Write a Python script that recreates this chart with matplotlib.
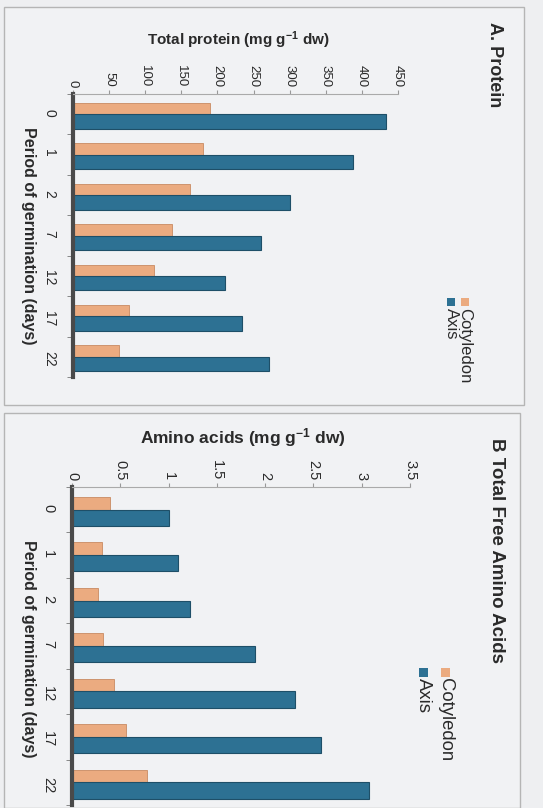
import numpy as np
import matplotlib.pyplot as plt
from matplotlib.patches import Rectangle

plt.rcParams['font.family'] = ['Liberation Sans', 'DejaVu Sans']
plt.rcParams['mathtext.fontset'] = 'custom'
plt.rcParams['mathtext.rm'] = 'Liberation Sans:bold'
plt.rcParams['mathtext.default'] = 'regular'

W, H = 543, 808

days = ['0', '1', '2', '7', '12', '17', '22']
protein_cot = [190, 180, 162, 137, 112, 78, 64]
protein_axis = [433, 387, 300, 260, 211, 234, 272]
amino_cot = [0.39, 0.31, 0.27, 0.32, 0.44, 0.56, 0.78]
amino_axis = [1.00, 1.10, 1.22, 1.89, 2.31, 2.58, 3.08]

C_COT = '#EBAB80'
C_AXIS = '#2D7193'
BG = '#EEEFF1'
TXT = '#2a2a2a'


def fx(x):
    return x / W


def fy(y):
    return 1 - y / H


fig = plt.figure(figsize=(W / 100, H / 100), dpi=100, facecolor=BG)

# panel frames
for (x0, y0, x1, y1) in [(4, 7, 524, 405), (4, 413, 520, 808)]:
    fig.patches.append(Rectangle((fx(x0), fy(y1)), fx(x1 - x0), (y1 - y0) / H,
                                 transform=fig.transFigure, facecolor='#F1F2F4',
                                 edgecolor='#B5B5B5', lw=1.0, zorder=-5))


def panel(box, cot, axs, xmax, xstep, tick_fs, cat_fs):
    left, top, right, bottom = box
    ax = fig.add_axes([fx(left), fy(bottom), fx(right - left), (bottom - top) / H])
    ax.set_facecolor('none')
    ax.set_zorder(2)
    y = np.arange(len(days))
    ax.barh(y - 0.14, cot, height=0.28, color=C_COT, edgecolor='#C98A62', lw=0.6)
    ax.barh(y + 0.18, axs, height=0.36, color=C_AXIS, edgecolor='#1E4F68', lw=0.8)
    ax.set_xlim(0, xmax)
    ax.set_ylim(len(days) - 0.5, -0.5)
    ticks = np.arange(0, xmax + xstep / 2, xstep)
    ax.set_xticks(ticks)
    ax.set_xticklabels([f'{t:g}' for t in ticks])
    ax.xaxis.tick_top()
    ax.tick_params(axis='x', labelrotation=270, labelsize=tick_fs, length=3,
                   color='#999999', labelcolor=TXT, pad=2)
    ax.set_yticks(y)
    ax.set_yticklabels(days)
    ax.set_yticks(np.arange(len(days) + 1) - 0.5, minor=True)
    ax.tick_params(axis='y', which='major', length=0, labelrotation=270,
                   labelsize=cat_fs, labelcolor=TXT, pad=12)
    ax.tick_params(axis='y', which='minor', length=4, color='#777777')
    for s in ['right', 'bottom']:
        ax.spines[s].set_visible(False)
    ax.spines['top'].set_color('#AAAAAA')
    ax.spines['top'].set_linewidth(0.8)
    ax.spines['left'].set_color('#4a4a4a')
    ax.spines['left'].set_linewidth(3)
    return ax


panel((73, 94, 398, 377), protein_cot, protein_axis, 450, 50, 9.5, 10)
panel((72, 487, 410, 805), amino_cot, amino_axis, 3.5, 0.5, 10.5, 10.5)

# titles and labels
fig.text(fx(495), fy(65), 'A. Protein', rotation=270, ha='center', va='center',
         fontsize=13, fontweight='bold', color=TXT)
fig.text(fx(497), fy(550), 'B Total Free Amino Acids', rotation=270, ha='center',
         va='center', fontsize=13.5, fontweight='bold', color=TXT)
fig.text(fx(238), fy(40), 'Total protein (mg g$^{-1}$ dw)', ha='center', va='center',
         fontsize=11, fontweight='bold', color=TXT)
fig.text(fx(243), fy(438), 'Amino acids (mg g$^{-1}$ dw)', ha='center', va='center',
         fontsize=12.5, fontweight='bold', color=TXT)
fig.text(fx(28), fy(236), 'Period of germination (days)', rotation=270, ha='center',
         va='center', fontsize=11.5, fontweight='bold', color=TXT)
fig.text(fx(28), fy(649), 'Period of germination (days)', rotation=270, ha='center',
         va='center', fontsize=11.5, fontweight='bold', color=TXT)

# legends (rotated like the rest of the page)
for (xc, xa, y0, fs, sz) in [(465, 451, 302, 12, 8), (445, 423, 672, 13.3, 9)]:
    for x, col, lab in [(xc, C_COT, 'Cotyledon'), (xa, C_AXIS, 'Axis')]:
        fig.patches.append(Rectangle((fx(x - sz / 2), fy(y0 + sz / 2)), sz / W, sz / H,
                                     transform=fig.transFigure, facecolor=col,
                                     edgecolor='none'))
        fig.text(fx(x), fy(y0 + sz / 2 + 2), lab, rotation=270, ha='center', va='top',
                 fontsize=fs, color=TXT)

fig.savefig('out.png', dpi=100, facecolor=BG)
